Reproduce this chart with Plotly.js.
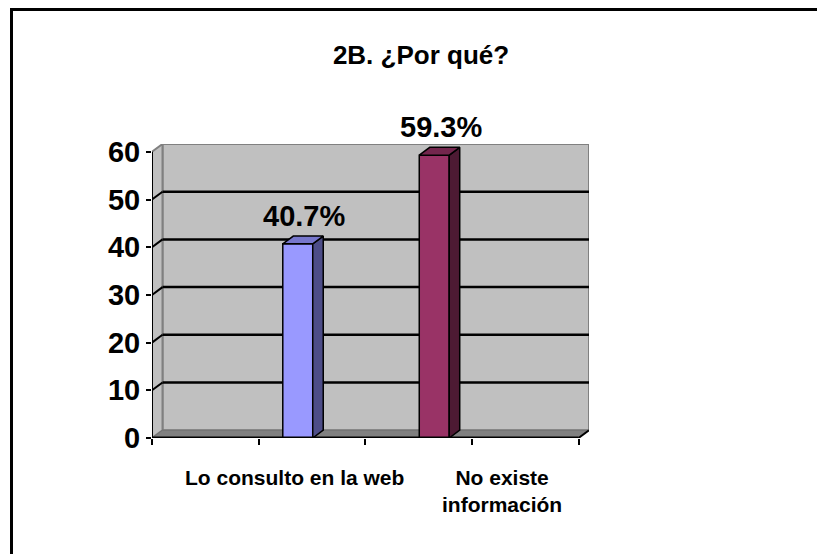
<!DOCTYPE html>
<html>
<head>
<meta charset="utf-8">
<script src="https://cdn.plot.ly/plotly-3.0.1.min.js"></script>
<style>
  html, body { margin: 0; padding: 0; background: #ffffff; overflow: hidden; }
  #wrap { position: relative; width: 817px; height: 554px; overflow: hidden; }
  #chart { width: 817px; height: 554px; }
  #frameL { position: absolute; left: 10px; top: 8px; width: 2.5px; height: 560px;
            background: #000; pointer-events: none; }
  #frameT { position: absolute; left: 10px; top: 8px; width: 807px; height: 2.5px;
            background: #000; pointer-events: none; }
</style>
</head>
<body>
<div id="wrap">
  <div id="chart"></div>
  <div id="frameL"></div>
  <div id="frameT"></div>
</div>
<script>
// ---- data ----
const title = "2B. ¿Por qué?";
const categories = ["Lo consulto en la web", "No existe<br>información"];
const values = [40.7, 59.3];
const valueLabels = ["40.7%", "59.3%"];
const yTicks = [0, 10, 20, 30, 40, 50, 60];

// ---- layout geometry ----
const W = 817, H = 554;
const M = { l: 152, r: 228, t: 144, b: 116 };
const plotW = W - M.l - M.r, plotH = H - M.t - M.b;
const DXpx = 10.5, DYpx = 7.8;           // 3D depth in pixels
const xMax = 4, yMax = 60;
const xR1 = xMax * plotW / (plotW - DXpx);
const yR1 = yMax * plotH / (plotH - DYpx);
const dx = xR1 - xMax, dy = yR1 - yMax;

const barCenters = [1.367, 2.647];
const barWidth = 0.281;
const labelCenters = [1.332, 3.283];
const frontColors = ["#9999ff", "#993366"];
const sideColors = ["#4d4d88", "#4d1a33"];
const topColors = ["#7777cc", "#73264d"];
const FONT = "Arial, 'Liberation Sans', sans-serif";

const traces = [];
// front faces
traces.push({
  type: "bar", x: barCenters, y: values, width: barWidth,
  marker: { color: frontColors, line: { color: "#000", width: 1.5 } },
  hoverinfo: "skip", showlegend: false
});
// side and top faces computed from the values
values.forEach((v, i) => {
  const x0 = barCenters[i] - barWidth / 2, x1 = barCenters[i] + barWidth / 2;
  traces.push({
    type: "scatter", mode: "lines", fill: "toself", fillcolor: sideColors[i],
    x: [x1, x1 + dx, x1 + dx, x1, x1], y: [0, dy, v + dy, v, 0],
    line: { color: "#000", width: 1.5 }, hoverinfo: "skip", showlegend: false
  });
  traces.push({
    type: "scatter", mode: "lines", fill: "toself", fillcolor: topColors[i],
    x: [x0, x1, x1 + dx, x0 + dx, x0], y: [v, v, v + dy, v + dy, v],
    line: { color: "#000", width: 1.5 }, hoverinfo: "skip", showlegend: false
  });
});

// walls, floor, gridlines
const shapes = [];
shapes.push({ type: "rect", xref: "x", yref: "y", x0: dx, x1: xMax + dx, y0: dy, y1: yMax + dy,
  fillcolor: "#c0c0c0", line: { color: "#808080", width: 2 }, layer: "below" });
shapes.push({ type: "path", xref: "x", yref: "y",
  path: `M0,0 L${dx},${dy} L${dx},${yMax + dy} L0,${yMax} Z`,
  fillcolor: "#c0c0c0", line: { color: "#808080", width: 2 }, layer: "below" });
shapes.push({ type: "path", xref: "x", yref: "y",
  path: `M0,0 L${xMax},0 L${xMax + dx},${dy} L${dx},${dy} Z`,
  fillcolor: "#808080", line: { color: "#707070", width: 1 }, layer: "below" });
yTicks.filter(v => v > 0 && v < yMax).forEach(v => {
  shapes.push({ type: "line", xref: "x", yref: "y", x0: dx, x1: xMax + dx, y0: v + dy, y1: v + dy,
    line: { color: "#000", width: 2.5 }, layer: "below" });
  shapes.push({ type: "line", xref: "x", yref: "y", x0: 0, x1: dx, y0: v, y1: v + dy,
    line: { color: "#000", width: 2 }, layer: "below" });
});
// axis lines
shapes.push({ type: "line", xref: "x", yref: "y", x0: 0, x1: 0, y0: 0, y1: yMax,
  line: { color: "#000", width: 2 } });
shapes.push({ type: "line", xref: "x", yref: "y", x0: 0, x1: xMax, y0: 0, y1: 0,
  line: { color: "#000", width: 3 } });
shapes.push({ type: "line", xref: "x", yref: "y", x0: xMax, x1: xMax + dx, y0: 0, y1: dy,
  line: { color: "#000", width: 2 } });

const annotations = categories.map((c, i) => ({
  x: labelCenters[i], y: 0, xref: "x", yref: "paper", yanchor: "top", xanchor: "center",
  yshift: -26, text: c, showarrow: false, align: "center",
  font: { family: FONT, size: 21, color: "#000", weight: "bold" }
}));
// value labels above the bars (paper-referenced in y so they are not hidden above the range)
values.forEach((v, i) => {
  annotations.push({
    x: barCenters[i] + dx / 2 + 0.01, y: v / yR1, xref: "x", yref: "paper",
    yshift: 28, xanchor: "center", yanchor: "middle", text: valueLabels[i], showarrow: false,
    font: { family: FONT, size: 29, color: "#000", weight: "bold" }
  });
});

const layout = {
  width: W, height: H, margin: M,
  paper_bgcolor: "#ffffff", plot_bgcolor: "#ffffff",
  showlegend: false,
  title: { text: title, x: 421 / W, xanchor: "center", xref: "container",
    y: 1 - 54.5 / H, yanchor: "middle", yref: "container",
    font: { family: FONT, size: 26, color: "#000", weight: "bold" } },
  xaxis: { range: [0, xR1], showgrid: false, zeroline: false, showline: false,
    tickvals: [0, 1, 2, 3, 4], showticklabels: false,
    ticks: "outside", ticklen: 6, tickwidth: 2, tickcolor: "#000", fixedrange: true },
  yaxis: { range: [0, yR1], showgrid: false, zeroline: false, showline: false,
    tickvals: yTicks, ticks: "outside", ticklen: 5, tickwidth: 2, tickcolor: "#000",
    tickfont: { family: FONT, size: 29, color: "#000", weight: "bold" }, fixedrange: true },
  shapes: shapes, annotations: annotations, bargap: 0
};

Plotly.newPlot("chart", traces, layout, { displayModeBar: false, staticPlot: true });
</script>
</body>
</html>
